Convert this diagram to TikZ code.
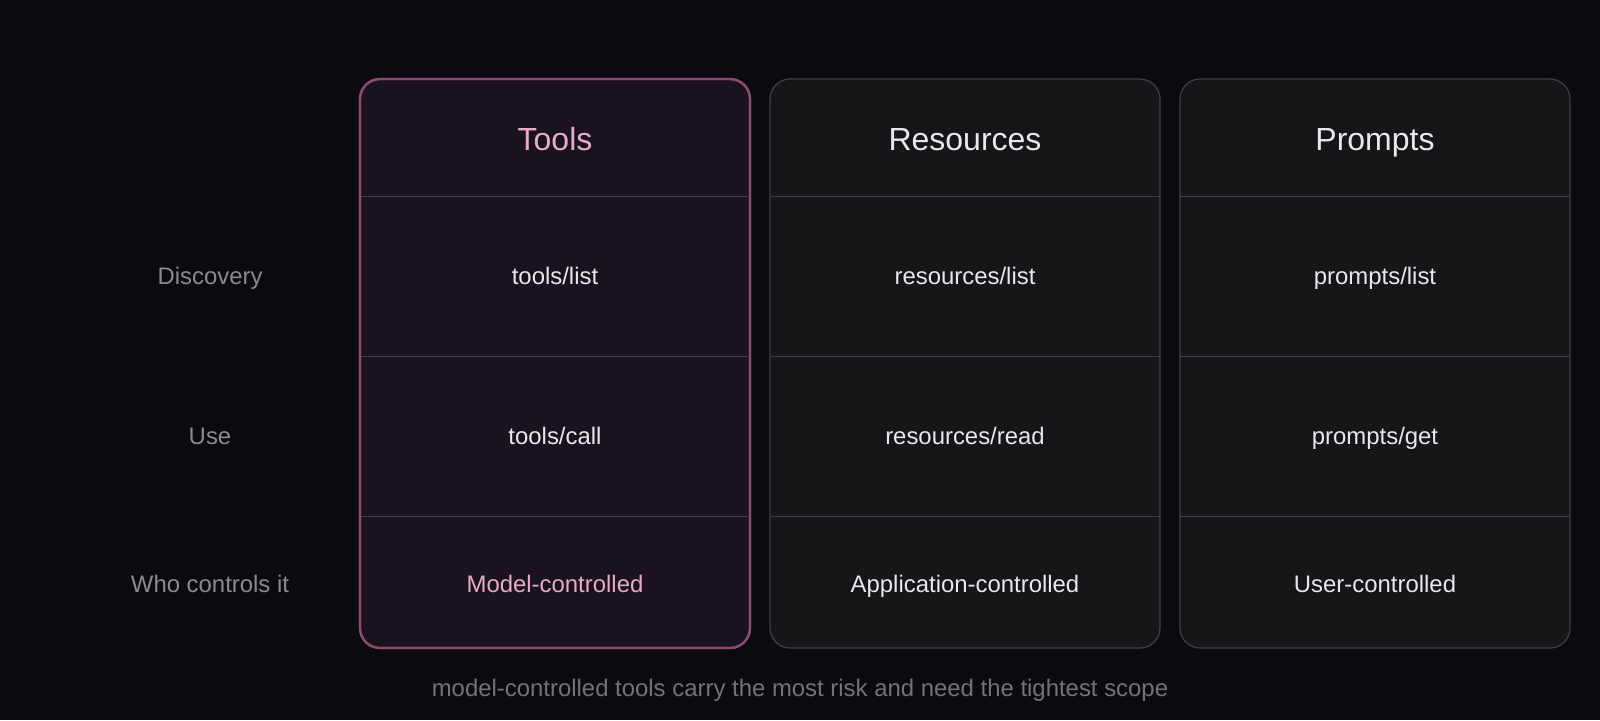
\documentclass[tikz,border=0pt]{standalone}
\usepackage{fontspec}
\setmainfont{Liberation Sans}
\usetikzlibrary{positioning}
\definecolor{bgcol}{HTML}{0B0B0F}
\definecolor{toolfill}{HTML}{1A131E}
\definecolor{toolline}{HTML}{8C4A73}
\definecolor{cardfill}{HTML}{161619}
\definecolor{cardline}{HTML}{3E3E44}
\definecolor{pinktext}{HTML}{E8AACB}
\definecolor{celltext}{HTML}{E8E8EC}
\definecolor{rowtext}{HTML}{8A8A90}
\tikzset{
  card/.style={draw=cardline,fill=cardfill,line width=0.35pt,rounded corners=5.7pt},
  hot card/.style={card,draw=toolline,fill=toolfill,line width=0.65pt},
  head/.style={anchor=base,font=\fontsize{9.1pt}{11pt}\selectfont,text=celltext},
  cell/.style={anchor=base,font=\fontsize{6.8pt}{8pt}\selectfont,text=celltext},
  rowlab/.style={anchor=base,font=\fontsize{6.8pt}{8pt}\selectfont,text=rowtext},
  sep/.style={draw=cardline,line width=0.25pt}
}
\begin{document}
\begin{tikzpicture}[x=0.01cm,y=-0.01cm]
\fill[bgcol] (0,0) rectangle (1600,720);
\useasboundingbox (0,0) rectangle (1600,720);
% cards
\draw[hot card] (360,79) rectangle (750,648);
\draw[card] (770,79) rectangle (1160,648);
\draw[card] (1180,79) rectangle (1570,648);
\foreach \xa/\xb in {360/750,770/1160,1180/1570}{
  \foreach \yy in {196,356,516}{
    \draw[sep] (\xa,\yy) -- (\xb,\yy);
  }
}
\draw[hot card,fill=none] (360,79) rectangle (750,648);
% headers
\node[head,text=pinktext] (tools) at (555,150) {Tools};
\node[head] (resources) at (965,150) {Resources};
\node[head] (prompts) at (1375,150) {Prompts};
% row labels
\node[rowlab] (discovery) at (210,284) {Discovery};
\node[rowlab] (use) at (210,444) {Use};
\node[rowlab] (who) at (210,592) {Who controls it};
% cells
\node[cell] (tlist) at (555,284) {tools/list};
\node[cell] (rlist) at (965,284) {resources/list};
\node[cell] (plist) at (1375,284) {prompts/list};
\node[cell] (tcall) at (555,444) {tools/call};
\node[cell] (rread) at (965,444) {resources/read};
\node[cell] (pget) at (1375,444) {prompts/get};
\node[cell,text=pinktext] (tctl) at (555,592) {Model-controlled};
\node[cell] (rctl) at (965,592) {Application-controlled};
\node[cell] (pctl) at (1375,592) {User-controlled};
% caption
\node[rowlab,text=rowtext!120] (caption) at (800,696) {model-controlled tools carry the most risk and need the tightest scope};
\end{tikzpicture}
\end{document}
